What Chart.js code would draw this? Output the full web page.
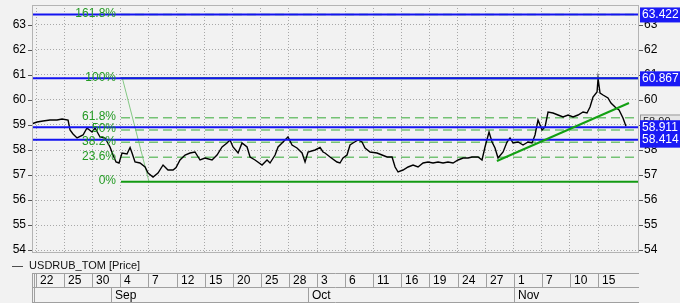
<!DOCTYPE html>
<html>
<head>
<meta charset="utf-8">
<script src="https://cdn.jsdelivr.net/npm/chart.js@4.4.0/dist/chart.umd.min.js"></script>
<style>
    html, body { margin: 0; padding: 0; background: #f2f2f2; }
    #wrap { position: relative; width: 680px; height: 303px; }
</style>
</head>
<body>
<div id="wrap"><canvas id="grafico" width="680" height="303"></canvas></div>
<script>
// Serie USDRUB_TOM: dia de negociacion (0 = 22 ago) y precio
const dias = [-0.43, 0.11, 0.75, 1.49, 2.24, 2.78, 3.42, 3.63, 3.95, 4.38, 5.02, 5.44, 5.98, 6.30, 6.83, 7.37, 7.90, 8.22, 8.54, 8.86,
    9.18, 9.71, 10.04, 10.25, 10.57, 11.10, 11.64, 11.96, 12.49, 13.02, 13.56, 14.09, 14.63, 14.95, 15.37, 15.91, 16.44, 16.97, 17.51, 18.04,
    18.79, 19.32, 19.86, 20.39, 20.71, 21.03, 21.57, 21.99, 22.53, 22.85, 23.38, 24.13, 24.66, 24.98, 25.52, 25.84, 26.37, 26.90, 27.33, 27.86,
    28.40, 28.72, 29.04, 29.79, 30.32, 30.64, 30.85, 31.39, 32.13, 32.45, 32.77, 33.20, 33.52, 33.84, 34.38, 34.80, 35.12, 35.66, 36.40, 36.94,
    37.47, 38.01, 38.33, 38.65, 39.18, 39.72, 40.25, 40.78, 41.32, 41.85, 42.38, 42.92, 43.45, 43.98, 44.52, 45.05, 45.59, 46.12, 46.55, 47.19,
    47.61, 47.93, 48.36, 48.68, 49.00, 49.32, 49.86, 50.28, 50.60, 50.92, 51.46, 51.99, 52.52, 52.95, 53.27, 53.59, 54.02, 54.34, 54.66, 55.19,
    55.73, 56.26, 56.80, 57.33, 57.86, 58.40, 58.82, 59.14, 59.46, 59.89, 60.00, 60.21, 60.53, 61.06, 61.38, 61.92, 62.24, 62.66, 62.98];
const precios = [59.05, 59.12, 59.16, 59.20, 59.20, 59.24, 59.20, 58.80, 58.64, 58.48, 58.60, 58.88, 58.72, 58.88, 58.52, 58.48, 58.12, 57.80, 57.52, 57.48,
    57.88, 57.84, 58.10, 57.88, 57.52, 57.48, 57.32, 57.08, 56.92, 57.08, 57.40, 57.20, 57.20, 57.30, 57.60, 57.80, 57.88, 57.92, 57.60, 57.68,
    57.60, 57.80, 58.12, 58.28, 58.40, 58.12, 57.88, 58.28, 58.12, 57.72, 57.60, 57.40, 57.60, 57.48, 57.80, 58.12, 58.32, 58.52, 58.20, 58.08,
    57.88, 57.52, 57.92, 58.00, 58.10, 57.92, 57.88, 57.72, 57.52, 57.48, 57.68, 57.80, 58.20, 58.28, 58.40, 58.32, 58.08, 57.92, 57.88, 57.80,
    57.72, 57.72, 57.32, 57.12, 57.20, 57.32, 57.40, 57.32, 57.48, 57.52, 57.48, 57.52, 57.48, 57.52, 57.48, 57.60, 57.68, 57.68, 57.72, 57.72,
    57.60, 58.12, 58.72, 58.32, 58.08, 57.68, 57.92, 58.32, 58.48, 58.28, 58.32, 58.20, 58.32, 58.28, 58.60, 59.20, 58.80, 58.92, 59.52, 59.48,
    59.40, 59.32, 59.40, 59.32, 59.40, 59.52, 59.48, 59.72, 60.12, 60.32, 60.86, 60.28, 60.20, 60.08, 59.88, 59.68, 59.60, 59.28, 58.95];

// Eje X: etiquetas cada 3 sesiones
const posFecha = [0, 3, 6, 9, 12, 15, 18, 21, 24, 27, 30, 33, 36, 39, 42, 45, 48, 51, 54, 57, 60];
const etiquetasFecha = ['22', '25', '30', '4', '7', '12', '15', '20', '25', '28', '3', '6', '11', '16', '19', '24', '27', '1', '7', '10', '15'];
const meses = ['Sep', 'Oct', 'Nov'];
const inicioMes = [8, 29, 51];
const diaMin = -0.43;
const diaMax = 64.37;

// Eje Y
const ticksPrecio = [54, 55, 56, 57, 58, 59, 60, 61, 62, 63];
const precioMin = 53.92;
const precioMax = 63.8;

// Lineas horizontales azules
const nivelesAzules = [63.422, 60.867, 58.911, 58.414];
const ultimoPrecio = 58.90;

// Fibonacci
const fibPct = ['161.8%', '100%', '61.8%', '50%', '38.2%', '23.6%', '0%'];
const fibNivel = [63.422, 60.867, 59.288, 58.800, 58.312, 57.709, 56.733];
const fibInicio = 9.07;
const fibDiagonalX = [9.22, 12.06];
const fibDiagonalY = [60.867, 56.733];

// Linea de tendencia
const tendenciaX = [49.2, 63.3];
const tendenciaY = [57.56, 59.88];

const FUENTE = '"Liberation Sans", Arial, sans-serif';
const GRIS = '#a8a8a8';

const datasets = [];

// Precio
datasets.push({
    label: 'USDRUB_TOM',
    data: dias.map((d, i) => ({ x: d, y: precios[i] })),
    borderColor: '#000',
    borderWidth: 1.4,
    pointRadius: 0,
    tension: 0,
    order: 2
});

// Niveles azules
nivelesAzules.forEach(n => {
    datasets.push({
        data: [{ x: diaMin, y: n }, { x: diaMax, y: n }],
        borderColor: '#1414f0',
        borderWidth: 2,
        pointRadius: 0,
        order: 1
    });
});

// Niveles Fibonacci
fibNivel.forEach((n, i) => {
    const solida = fibPct[i] === '100%' || fibPct[i] === '0%';
    datasets.push({
        data: [{ x: fibInicio, y: n }, { x: diaMax, y: n }],
        borderColor: solida ? '#139a13' : '#74c274',
        borderWidth: solida ? 2 : 1.5,
        borderDash: solida ? [] : [9, 5],
        pointRadius: 0,
        order: solida ? 1 : 3
    });
});

datasets.push({
    data: fibDiagonalX.map((x, i) => ({ x: x, y: fibDiagonalY[i] })),
    borderColor: '#84c884',
    borderWidth: 1,
    pointRadius: 0,
    order: 3
});

datasets.push({
    data: tendenciaX.map((x, i) => ({ x: x, y: tendenciaY[i] })),
    borderColor: '#12a012',
    borderWidth: 2,
    pointRadius: 0,
    order: 0
});

// quita el relleno que Chart.js reserva para las etiquetas extremas
const sinRelleno = s => { s.paddingTop = 0; s.paddingBottom = 0; s.paddingLeft = 0; s.paddingRight = 0; };

// Dibujos extra: marco, marcas de eje, textos Fibonacci, etiquetas de precio y franja de fechas
const extras = {
    id: 'extras',
    afterDatasetsDraw(chart) {
        const ctx = chart.ctx;
        const yS = chart.scales.y;
        const xS = chart.scales.x;
        ctx.save();
        ctx.font = '12px ' + FUENTE;
        ctx.fillStyle = '#229a22';
        ctx.textAlign = 'right';
        ctx.textBaseline = 'middle';
        const xt = xS.getPixelForValue(fibInicio) - 5;
        fibNivel.forEach((n, i) => {
            ctx.fillText(fibPct[i], xt, yS.getPixelForValue(n) - 1);
        });
        ctx.restore();
    },
    afterDraw(chart) {
        const ctx = chart.ctx;
        const a = chart.chartArea;
        const yS = chart.scales.y;
        const xS = chart.scales.x;
        ctx.save();

        // marco
        ctx.strokeStyle = '#b4b4b4';
        ctx.lineWidth = 1;
        ctx.strokeRect(a.left + 0.5, a.top + 0.5, a.right - a.left - 1, a.bottom - a.top);

        // marcas de eje
        ctx.strokeStyle = '#555';
        ticksPrecio.forEach(v => {
            const y = Math.round(yS.getPixelForValue(v)) + 0.5;
            ctx.beginPath();
            ctx.moveTo(a.left - 4, y); ctx.lineTo(a.left, y);
            ctx.moveTo(a.right, y); ctx.lineTo(a.right + 4, y);
            ctx.stroke();
        });

        // caja gris del ultimo precio
        ctx.font = '11px ' + FUENTE;
        ctx.textBaseline = 'middle';
        ctx.textAlign = 'left';
        const yu = yS.getPixelForValue(ultimoPrecio) - 6;
        ctx.fillStyle = '#e6e6e6';
        ctx.fillRect(a.right + 1, yu - 7, 41, 14);
        ctx.strokeStyle = '#999';
        ctx.strokeRect(a.right + 1.5, yu - 6.5, 40, 13);
        ctx.fillStyle = '#222';
        ctx.fillText(ultimoPrecio.toFixed(2), a.right + 4, yu);

        // cajas azules
        ctx.font = '12px ' + FUENTE;
        nivelesAzules.forEach(n => {
            const y = yS.getPixelForValue(n);
            ctx.fillStyle = '#1a1af5';
            ctx.fillRect(a.right + 1, y - 7, 42, 15);
            ctx.fillStyle = '#fff';
            ctx.fillText(n.toFixed(3), a.right + 3, y + 0.5);
        });

        // leyenda
        ctx.font = '11px ' + FUENTE;
        ctx.fillStyle = '#111';
        ctx.fillText('\u2014  USDRUB_TOM [Price]', 12, 266);

        // franja de fechas
        const top = 273.5, mid = 287.5, bot = 302.5;
        ctx.strokeStyle = '#a0a0a0';
        ctx.beginPath();
        ctx.moveTo(a.left, top); ctx.lineTo(a.right, top);
        ctx.moveTo(a.left, mid); ctx.lineTo(a.right, mid);
        ctx.moveTo(a.left, bot); ctx.lineTo(a.right, bot);
        ctx.moveTo(a.left + 0.5, top); ctx.lineTo(a.left + 0.5, bot);
        ctx.moveTo(a.left + 2.5, top); ctx.lineTo(a.left + 2.5, bot);
        posFecha.forEach(p => {
            const x = Math.round(xS.getPixelForValue(p)) + 0.5;
            ctx.moveTo(x, top); ctx.lineTo(x, mid);
        });
        inicioMes.forEach(p => {
            const x = Math.round(xS.getPixelForValue(p)) + 0.5;
            ctx.moveTo(x, mid); ctx.lineTo(x, bot);
        });
        ctx.stroke();

        ctx.font = '12px ' + FUENTE;
        ctx.fillStyle = '#000';
        posFecha.forEach((p, i) => {
            ctx.fillText(etiquetasFecha[i], Math.round(xS.getPixelForValue(p)) + 4, 281);
        });
        inicioMes.forEach((p, i) => {
            ctx.fillText(meses[i], Math.round(xS.getPixelForValue(p)) + 4, 295.5);
        });
        ctx.restore();
    }
};

new Chart(document.getElementById('grafico'), {
    type: 'line',
    data: { datasets: datasets },
    options: {
        responsive: false,
        animation: false,
        layout: { padding: { top: 5, bottom: 51, left: 0, right: 0 } },
        plugins: { legend: { display: false }, tooltip: { enabled: false } },
        scales: {
            x: {
                type: 'linear',
                min: diaMin,
                max: diaMax,
                afterBuildTicks: s => { s.ticks = posFecha.map(v => ({ value: v })); },
                ticks: { display: false },
                grid: { color: GRIS, drawTicks: false, lineWidth: 1 },
                border: { display: false, dash: [1, 2] },
                afterFit: s => { s.height = 0; sinRelleno(s); }
            },
            y: {
                position: 'left',
                min: precioMin,
                max: precioMax,
                afterBuildTicks: s => { s.ticks = ticksPrecio.map(v => ({ value: v })); },
                ticks: { color: '#000', padding: 6, font: { size: 12, family: FUENTE } },
                grid: { color: GRIS, drawTicks: false, lineWidth: 1 },
                border: { display: false, dash: [1, 2] },
                afterFit: s => { s.width = 32; sinRelleno(s); }
            },
            y2: {
                position: 'right',
                min: precioMin,
                max: precioMax,
                afterBuildTicks: s => { s.ticks = ticksPrecio.map(v => ({ value: v })); },
                ticks: { color: '#000', padding: 5, font: { size: 12, family: FUENTE } },
                grid: { display: false, drawTicks: false },
                border: { display: false },
                afterFit: s => { s.width = 41; sinRelleno(s); }
            }
        }
    },
    plugins: [extras]
});
</script>
</body>
</html>
